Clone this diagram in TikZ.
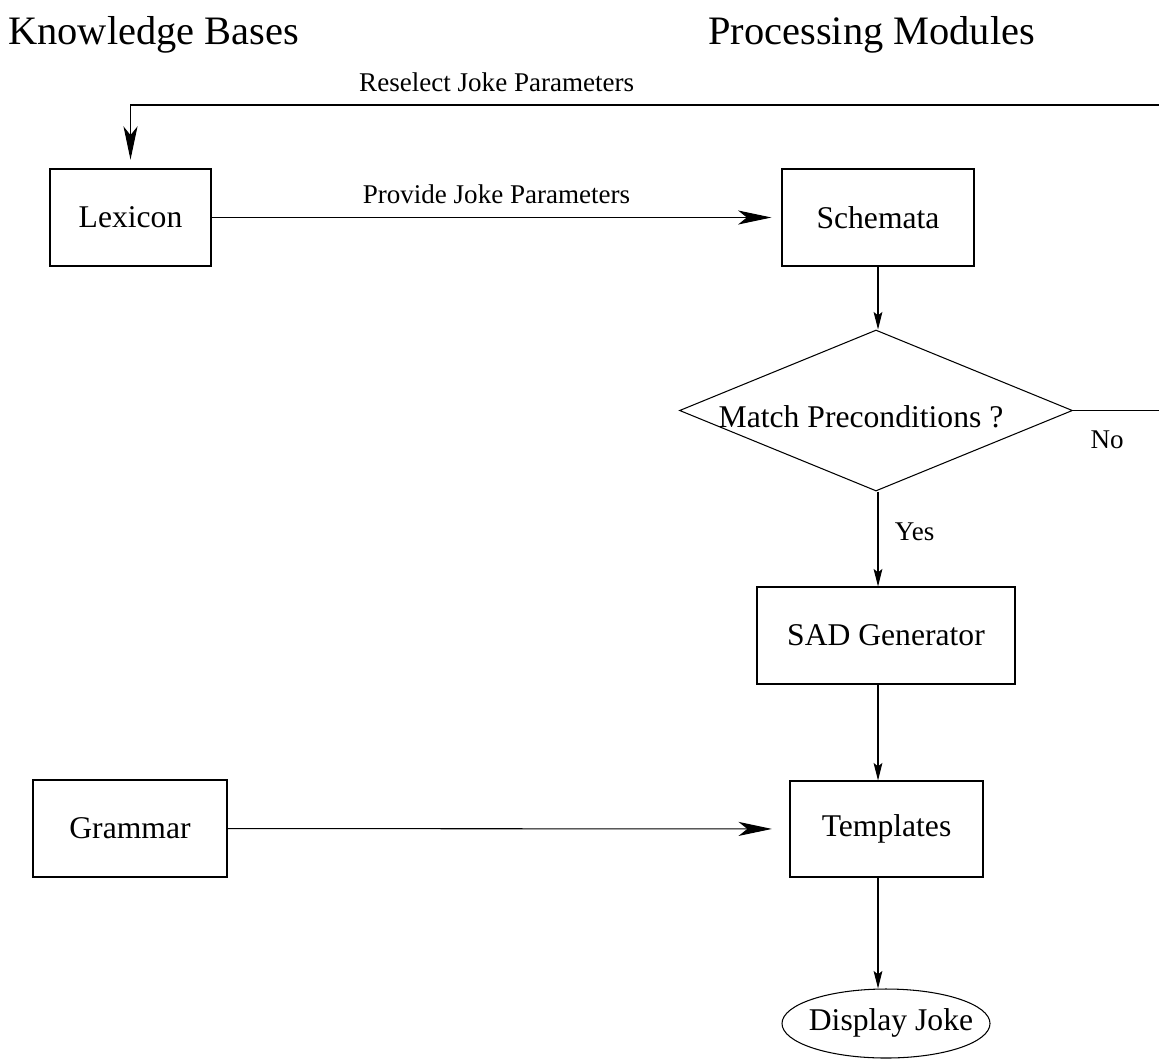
\documentclass[tikz,border=0pt]{standalone}
\usepackage{fontspec}
\setmainfont{Liberation Serif}
\usetikzlibrary{arrows.meta}
\usetikzlibrary{shapes.geometric}

\begin{document}
\begin{tikzpicture}[x=0.02cm, y=-0.02cm, line width=0.6pt,
		box/.style={draw, rectangle, inner sep=0pt, font=\fontsize{18}{21}\selectfont},
		big/.style={-{Stealth[length=19pt, width=8pt, inset=5pt]}},
		small/.style={-{Stealth[length=10pt, width=5pt, inset=2pt]}},
		lbl/.style={font=\fontsize{15.4}{18}\selectfont}]
		\useasboundingbox (0,0) rectangle (1159,1059);
		
		% headings
		\node [anchor=west, font=\fontsize{23}{27}\selectfont] (kb) at (2,35) {Knowledge Bases};
		\node [anchor=west, font=\fontsize{23}{27}\selectfont] (pm) at (702,35) {Processing Modules};
		
		% boxes
		\node [box, minimum width=161*0.02cm, minimum height=97*0.02cm] (lex) at (130.5,217.5) {Lexicon};
		\node [box, minimum width=192*0.02cm, minimum height=97*0.02cm] (sch) at (878,217.5) {Schemata};
		\node [draw, diamond, aspect=2.44, inner sep=0pt, minimum width=393*0.02cm, minimum height=161*0.02cm] (match) at (876,410.5) {};
		\node [font=\fontsize{18}{21}\selectfont] (matchtxt) at (861,417) {Match Preconditions ?};
		\node [box, minimum width=258*0.02cm, minimum height=97*0.02cm] (sad) at (886,635.5) {SAD Generator};
		\node [box, minimum width=193*0.02cm, minimum height=96*0.02cm] (tpl) at (886.5,829) {Templates};
		\node [box, minimum width=194*0.02cm, minimum height=97*0.02cm] (gram) at (130,828.5) {Grammar};
		\node [draw, ellipse, inner sep=0pt, minimum width=208*0.02cm, minimum height=69*0.02cm] (disp) at (886,1023.5) {};
		\node [font=\fontsize{18}{21}\selectfont] (disptxt) at (891,1023) {Display Joke};
		\coordinate (e1) at (1165,410.5);
		\coordinate (e2) at (1165,105);
		
		% connectors
		\draw [big, shorten >=5.7pt] (lex) -- node [lbl, above=4pt] (provide) {Provide Joke Parameters} (sch);
		\draw [big, shorten >=10pt] (gram) -- (tpl);
		\draw [small] (sch) -- (sch.south |- match.north);
		\draw [small] (sch.south |- match.south) -- node [lbl, right=6pt, pos=0.42] (yes) {Yes} (sch.south |- sad.north);
		\draw [small] (sch.south |- sad.south) -- (sch.south |- tpl.north);
		\draw [small] (sch.south |- tpl.south) -- (sch.south |- disp.north);
		\draw (match.east) -- node [lbl, below=8pt, pos=0.37] (no) {No} (e1);
		\draw [big, shorten >=5pt] (e1) -- (e2) -- node [lbl, above=4pt, pos=0.646] (reselect) {Reselect Joke Parameters} (lex.north |- e2) -- (lex.north);
	    
\end{tikzpicture}
\end{document}
